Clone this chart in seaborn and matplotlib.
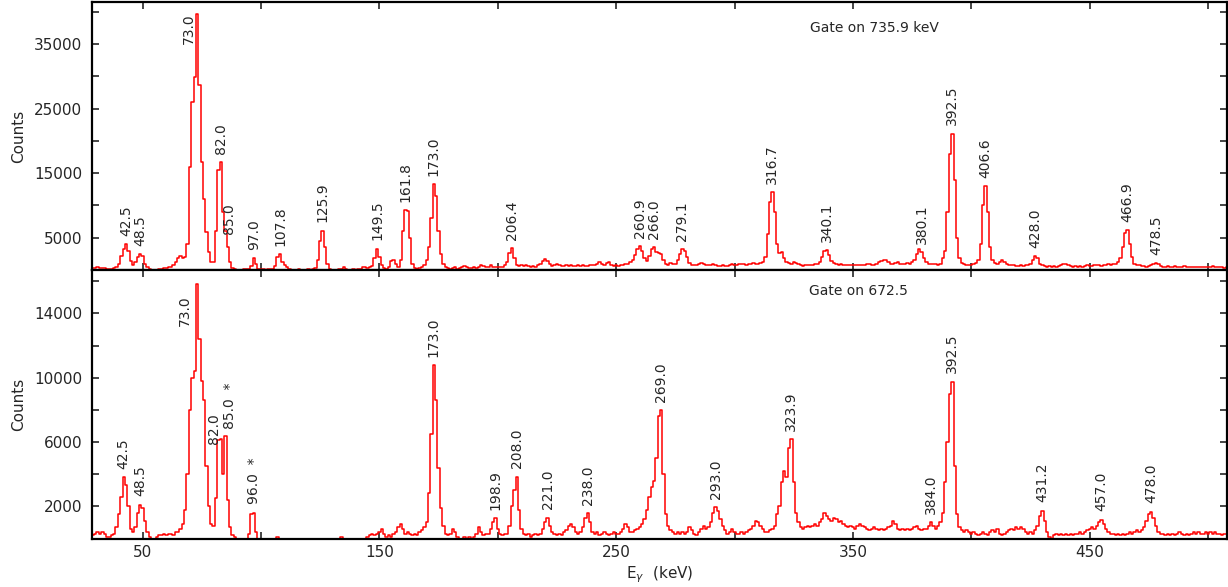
import matplotlib
matplotlib.use("Agg")
import matplotlib.pyplot as plt
from matplotlib.ticker import FixedLocator, MultipleLocator, NullFormatter
import numpy as np
import pandas as pd
import seaborn as sns

# spectra, 1 keV per channel, first channel at 29 keV
E_START = 29

# gate on 735.9 keV (upper panel)
gate_7359_counts = [
    250, 350, 400, 300, 350, 300, 200, 150, 200, 300,           # 29
    500, 900, 2200, 3300, 4000, 3000, 1400, 800, 1200, 2000,    # 39
    2500, 2100, 1000, 400, 100, 0, 0, 0, 100, 200,              # 49
    300, 300, 400, 500, 700, 1200, 1900, 2200, 1900, 2000,      # 59
    4000, 16000, 26000, 29900, 39700, 28600, 16700, 11000, 5900, 2800,  # 69
    1300, 1200, 6000, 15500, 16700, 9000, 6000, 3500, 1200, 300,        # 79
    100, 0, 0, 0, 100, 100, 200, 600, 1800, 900,                # 89
    200, 100, 100, 0, 100, 100, 200, 600, 2000, 2500,           # 99
    1200, 700, 400, 100, 0, 0, 0, 100, 0, 0,                    # 109
    0, 100, 0, 100, 300, 1500, 4500, 6100, 3500, 900,           # 119
    200, 0, 0, 0, 100, 200, 500, 200, 0, 0,                     # 129
    100, 0, 100, 200, 500, 400, 300, 400, 600, 1800,            # 139
    3300, 2000, 700, 300, 200, 500, 1400, 1600, 900, 500,       # 149
    1500, 6000, 9300, 9200, 5000, 1000, 300, 200, 300, 400,     # 159
    800, 1500, 3500, 8000, 13300, 11500, 6000, 2500, 1000, 500, # 169
    300, 200, 300, 400, 200, 300, 400, 600, 500, 300,           # 179
    300, 400, 300, 500, 700, 600, 400, 500, 700, 500,           # 189
    400, 400, 500, 500, 700, 1200, 2600, 3400, 1800, 800,       # 199
    600, 700, 600, 800, 600, 500, 600, 500, 700, 1000,          # 209
    1400, 1700, 1400, 900, 600, 700, 900, 800, 600, 600,        # 219
    700, 600, 700, 600, 650, 700, 600, 700, 650, 600,           # 229
    700, 750, 800, 1000, 1200, 1000, 800, 1100, 1200, 800,      # 239
    600, 700, 650, 700, 800, 900, 1000, 1200, 1600, 2400,       # 249
    3300, 3700, 3000, 1800, 1400, 2200, 3300, 3500, 2800, 2600, # 259
    2500, 1500, 900, 800, 1100, 900, 1000, 1500, 2500, 3200,    # 269
    3000, 2000, 1100, 800, 700, 800, 1000, 1100, 900, 700,      # 279
    700, 800, 900, 700, 600, 650, 700, 600, 600, 700,           # 289
    900, 800, 800, 900, 1000, 900, 800, 900, 1000, 1100,        # 299
    1000, 1000, 1100, 1300, 2000, 5500, 10500, 12100, 9000, 4000,   # 309
    2600, 2800, 1800, 1200, 1100, 1000, 1200, 1100, 900, 700,   # 319
    600, 700, 800, 700, 800, 900, 1000, 1300, 2000, 2900,       # 329
    3100, 2300, 1400, 1100, 1000, 800, 900, 700, 800, 700,      # 339
    700, 800, 700, 700, 800, 700, 800, 900, 1000, 800,          # 349
    700, 900, 1200, 1400, 1500, 1500, 1300, 1000, 900, 1100,    # 359
    1200, 1000, 900, 1000, 1100, 1000, 1200, 1600, 2500, 3200,  # 369
    2800, 1800, 1200, 1000, 900, 1000, 900, 800, 1000, 1800,    # 379
    3000, 9000, 18000, 21100, 14000, 5000, 1800, 1100, 900, 800,    # 389
    700, 800, 900, 1100, 1500, 4000, 10000, 13000, 9000, 3500,  # 399
    1500, 1100, 1000, 1300, 1500, 1300, 1000, 800, 700, 700,    # 409
    600, 600, 700, 600, 700, 800, 1000, 1600, 2100, 1800,       # 419
    1000, 700, 600, 500, 600, 500, 600, 500, 600, 700,          # 429
    900, 1000, 800, 600, 500, 600, 500, 600, 500, 600,          # 439
    700, 600, 600, 700, 800, 700, 600, 700, 800, 900,           # 449
    800, 900, 1000, 1200, 1800, 3500, 5800, 6200, 4000, 2000,   # 459
    1000, 800, 700, 600, 600, 500, 600, 700, 900, 1100,         # 469
    900, 600, 500, 500, 600, 500, 500, 600, 500, 400,           # 479
    500, 600, 500, 400, 500, 400, 400, 500, 400, 400,           # 489
    500, 400, 500, 600, 400, 400, 500, 400, 300, 400,           # 499
]

# gate on 672.5 keV (lower panel)
gate_6725_counts = [
    200, 300, 400, 300, 400, 300, 100, 100, 200, 300,           # 29
    700, 1500, 2600, 3800, 3300, 2000, 600, 400, 700, 1600,     # 39
    2100, 1900, 1100, 400, 100, 0, 0, 100, 200, 200,            # 49
    300, 200, 300, 300, 200, 400, 400, 600, 900, 1800,          # 59
    4000, 8000, 10000, 10400, 15800, 12400, 9800, 8600, 4500, 2000,     # 69
    900, 800, 2500, 6100, 6200, 4000, 6400, 2400, 700, 200,     # 79
    100, 0, 0, 0, 0, 0, 300, 1500, 1600, 400,                   # 89
    0, 0, 0, 0, 0, 0, 0, 0, 100, 0,                             # 99
    0, 0, 0, 0, 0, 0, 0, 0, 0, 0,                               # 109
    0, 0, 0, 0, 0, 0, 0, 0, 0, 0,                               # 119
    0, 0, 0, 0, 0, 100, 0, 0, 0, 0,                             # 129
    0, 0, 0, 0, 0, 0, 100, 200, 300, 200,                       # 139
    300, 400, 600, 300, 100, 200, 100, 300, 400, 700,           # 149
    900, 600, 300, 400, 300, 200, 300, 200, 400, 500,           # 159
    700, 1000, 2800, 6500, 10800, 8600, 4400, 1900, 800, 300,   # 169
    200, 300, 600, 400, 100, 0, 0, 100, 0, 100,                 # 179
    0, 100, 300, 700, 400, 200, 300, 300, 600, 1000,            # 189
    1250, 600, 300, 200, 300, 300, 800, 2000, 3000, 3850,       # 199
    1800, 600, 300, 200, 300, 100, 200, 300, 200, 300,          # 209
    600, 1000, 1300, 800, 400, 300, 200, 300, 200, 400,         # 219
    500, 800, 900, 700, 400, 300, 400, 700, 1300, 1560,         # 229
    1000, 400, 300, 400, 200, 300, 400, 300, 200, 300,          # 239
    400, 300, 300, 400, 600, 900, 700, 400, 400, 500,           # 249
    600, 700, 900, 1200, 1800, 2600, 3200, 3600, 5000, 7600,    # 259
    7970, 4000, 1500, 800, 500, 400, 300, 400, 300, 400,        # 269
    300, 400, 700, 500, 300, 200, 400, 600, 800, 600,           # 279
    700, 1000, 1600, 1930, 1700, 1200, 800, 500, 300, 400,      # 289
    600, 400, 300, 300, 400, 300, 400, 500, 600, 800,           # 299
    1100, 1000, 800, 600, 400, 400, 500, 600, 800, 1500,        # 309
    2000, 3500, 4200, 3800, 5600, 6160, 3500, 1600, 1000, 700,  # 319
    600, 700, 800, 700, 800, 900, 800, 1000, 1200, 1600,        # 329
    1400, 1200, 1100, 1300, 1200, 1000, 1100, 900, 800, 700,    # 339
    800, 700, 600, 800, 900, 800, 700, 600, 500, 600,           # 349
    700, 600, 500, 600, 500, 600, 700, 800, 1100, 900,          # 359
    600, 500, 600, 500, 600, 500, 600, 700, 800, 600,           # 369
    500, 600, 600, 800, 1000, 800, 600, 800, 1000, 1600,        # 379
    3500, 6000, 9000, 9760, 4500, 1500, 700, 500, 400, 500,     # 389
    400, 300, 400, 300, 200, 300, 400, 300, 200, 400,           # 399
    500, 400, 600, 300, 200, 300, 400, 500, 600, 500,           # 409
    700, 600, 700, 600, 400, 300, 400, 300, 500, 800,           # 419
    1400, 1730, 1100, 400, 100, 0, 200, 300, 200, 300,          # 429
    200, 300, 200, 300, 200, 300, 300, 400, 300, 400,           # 439
    500, 600, 700, 600, 800, 1000, 1170, 900, 600, 400,         # 449
    300, 300, 200, 300, 200, 300, 200, 300, 400, 300,           # 459
    400, 500, 400, 500, 700, 1100, 1500, 1660, 1300, 800,       # 469
    400, 300, 300, 200, 300, 200, 300, 200, 300, 400,           # 479
    300, 200, 300, 200, 300, 400, 300, 400, 300, 300,           # 489
    400, 300, 400, 300, 400, 300, 300, 200, 300, 300,           # 499
]

gate_7359_labels = ["42.5", "48.5", "73.0", "82.0", "85.0", "97.0", "107.8",
                    "125.9", "149.5", "161.8", "173.0", "206.4", "260.9",
                    "266.0", "279.1", "316.7", "340.1", "380.1", "392.5",
                    "406.6", "428.0", "466.9", "478.5"]
gate_6725_labels = ["42.5", "48.5", "73.0", "82.0", "85.0  *", "96.0  *",
                    "173.0", "198.9", "208.0", "221.0", "238.0", "269.0",
                    "293.0", "323.9", "384.0", "392.5", "431.2", "457.0",
                    "478.0"]

gate_7359_title = "Gate on 735.9 keV"
gate_6725_title = "Gate on 672.5"

# hand placed labels (x, y, vertical alignment) where the default would collide
top_label_fix = {"73.0": (69.5, 39700, "top"), "85.0": (86.5, 5600, "bottom")}
bottom_label_fix = {"73.0": (68.0, 15100, "top"), "82.0": (80.0, 5900, "bottom"),
                    "85.0  *": (86.8, 6800, "bottom")}

sns.set_style("ticks")
plt.rcParams["font.family"] = ["DejaVu Sans"]
plt.rcParams["mathtext.fontset"] = "dejavusans"

fig = plt.figure(figsize=(12.28, 5.87), dpi=100)
ax_top = fig.add_axes([0.0749, 0.540, 0.9243, 0.4566])
ax_bot = fig.add_axes([0.0749, 0.0826, 0.9243, 0.4574])


def draw_panel(ax, counts, labels, fixes, title, title_pos, ylim, yticks, yminor):
    energy = np.arange(E_START, E_START + len(counts))
    df = pd.DataFrame({"energy": energy, "counts": counts})
    sns.lineplot(data=df, x="energy", y="counts", ax=ax, color="#ff0000",
                 lw=1.1, drawstyle="steps-mid", estimator=None)
    cts = np.asarray(counts)
    for lab in labels:
        if lab in fixes:
            x, y, va = fixes[lab]
            ax.text(x, y, lab, rotation=90, ha="center", va=va, fontsize=10)
            continue
        e = float(lab.split()[0])
        near = np.where(np.abs(energy - e) <= 2, cts, -1)
        i = int(np.argmax(near))
        ax.annotate(lab, xy=(energy[i], cts[i]), xytext=(0, 6),
                    textcoords="offset points", rotation=90,
                    ha="center", va="bottom", fontsize=10)
    ax.text(title_pos[0], title_pos[1], title, transform=ax.transAxes,
            ha="center", va="center", fontsize=10)

    ax.set_xlim(28.6, 508)
    ax.set_ylim(*ylim)
    ax.xaxis.set_major_locator(FixedLocator([50, 150, 250, 350, 450]))
    ax.xaxis.set_minor_locator(MultipleLocator(50))
    ax.yaxis.set_major_locator(FixedLocator(yticks))
    ax.yaxis.set_minor_locator(MultipleLocator(yminor))
    ax.tick_params(which="both", direction="in", top=True, right=True,
                   length=5, width=1.2, labelsize=11)
    ax.tick_params(axis="y", pad=7)
    ax.tick_params(axis="x", pad=5)
    for s in ax.spines.values():
        s.set_linewidth(1.6)
        s.set_color("black")
    ax.set_ylabel("Counts", fontsize=11)
    ax.yaxis.set_label_coords(-0.058, 0.5)
    ax.set_xlabel("")


draw_panel(ax_top, gate_7359_counts, gate_7359_labels, top_label_fix,
           gate_7359_title, (0.689, 0.903), (0, 41500),
           [5000, 15000, 25000, 35000], 5000)
draw_panel(ax_bot, gate_6725_counts, gate_6725_labels, bottom_label_fix,
           gate_6725_title, (0.675, 0.923), (0, 16700),
           [2000, 6000, 10000, 14000], 2000)

ax_top.xaxis.set_major_formatter(NullFormatter())
ax_bot.set_xlabel(r"E$_\gamma$  (keV)", fontsize=11, labelpad=3)

fig.savefig("out.png", dpi=100)
